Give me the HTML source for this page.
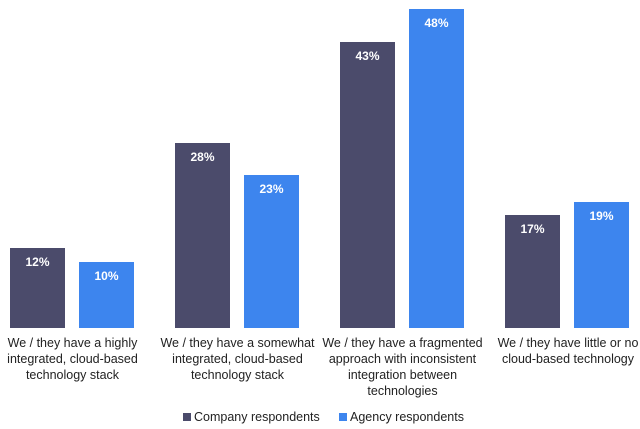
<!DOCTYPE html><html><head><style>
body{margin:0;width:640px;height:429px;background:#fff;position:relative;overflow:hidden;font-family:"Liberation Sans",sans-serif}
.b{position:absolute;bottom:101px;width:55px;color:#fff;font-size:12px;font-weight:bold;text-align:center;box-sizing:border-box;padding-top:7px}
.d{background:#4b4b6b}.a{background:#3d85ee}
.l{position:absolute;top:335px;width:165px;text-align:center;font-size:12.5px;line-height:16px;color:#222}
.lg{position:absolute;top:410px;font-size:12.5px;color:#222}
.sq{display:inline-block;width:8px;height:8px;margin-right:3px}
</style></head><body>
<div class="b d" style="left:10px;height:80px">12%</div>
<div class="b a" style="left:79px;height:66px">10%</div>
<div class="b d" style="left:175px;height:185px">28%</div>
<div class="b a" style="left:244px;height:153px">23%</div>
<div class="b d" style="left:340px;height:286px">43%</div>
<div class="b a" style="left:409px;height:319px">48%</div>
<div class="b d" style="left:505px;height:113px">17%</div>
<div class="b a" style="left:574px;height:126px">19%</div>
<div class="l" style="left:-10px">We / they have a highly integrated, cloud-based technology stack</div>
<div class="l" style="left:155px">We / they have a somewhat integrated, cloud-based technology stack</div>
<div class="l" style="left:320px">We / they have a fragmented approach with inconsistent integration between technologies</div>
<div class="l" style="left:488px;width:160px">We / they have little or no cloud-based technology</div>
<div class="lg" style="left:183px"><span class="sq d"></span>Company respondents</div>
<div class="lg" style="left:339px"><span class="sq a"></span>Agency respondents</div>
</body></html>
